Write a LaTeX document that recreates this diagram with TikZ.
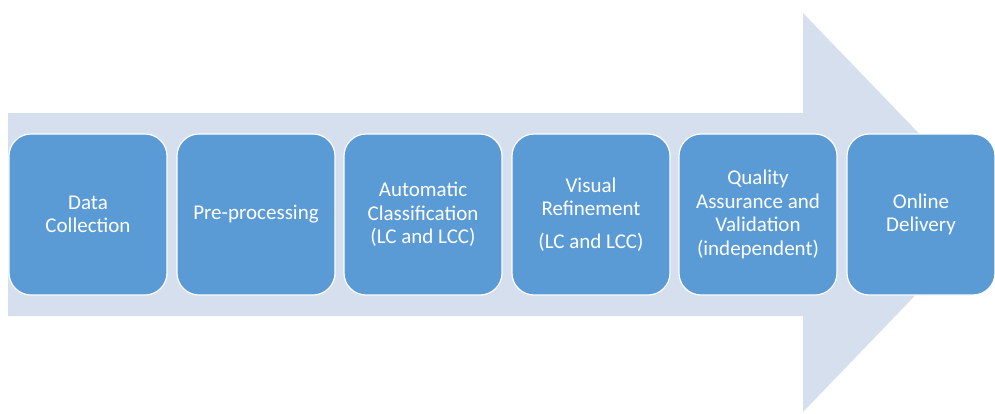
\documentclass[tikz,border=0pt]{standalone}
\usepackage{fontspec}
\setmainfont{Carlito}
\definecolor{arrowbg}{HTML}{D5DFEE}
\definecolor{stagefill}{HTML}{5B9BD5}
\tikzset{
    stagebox/.style={rectangle, rounded corners=22pt, fill=stagefill, draw=white,
        line width=1.2pt, minimum width=158pt, minimum height=161pt, inner sep=0pt,
        text=white, align=center, font=\fontsize{21}{23.5}\selectfont}
}

\begin{document}
\begin{tikzpicture}[line cap=round,line join=round,x=1pt,y=-1pt]
    \useasboundingbox (0,0) rectangle (995,413);
    % big background arrow
    \fill[color=arrowbg] (8,113) -- (803,113) -- (803,13) -- (995,212.5)
        -- (803,412) -- (803,316) -- (8,316) -- cycle;
    % the stages
    \node[stagebox] (collect) at (88,214.5) {Data\\Collection};
    \node[stagebox] (preproc) at (256,214.5) {Pre-processing};
    \node[stagebox] (autoclass) at (423,214.5) {Automatic\\Classification\\(LC and LCC)};
    \node[stagebox] (visref) at (591,214.5) {Visual\\Refinement\\[9pt](LC and LCC)};
    \node[stagebox] (qaval) at (758,214.5) {Quality\\Assurance and\\Validation\\(independent)};
    \node[stagebox,minimum width=148pt] (delivery) at (921,214.5) {Online\\Delivery};
\end{tikzpicture}
\end{document}
